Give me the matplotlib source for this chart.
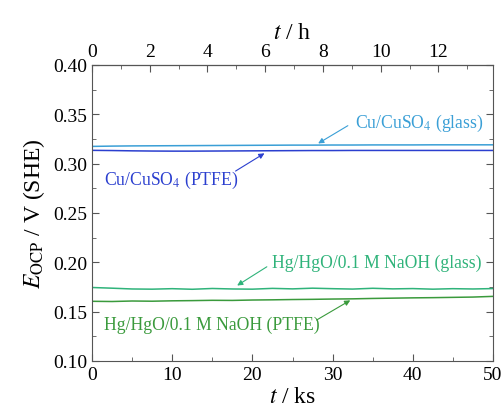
import numpy as np
import matplotlib.pyplot as plt
from matplotlib.ticker import MultipleLocator, FixedLocator

plt.rcParams['font.family'] = ['Liberation Serif', 'DejaVu Serif']
plt.rcParams['mathtext.fontset'] = 'stix'

# time in ks
t_ks = [0, 2.5, 5, 7.5, 10, 12.5, 15, 17.5, 20, 22.5, 25, 27.5, 30, 32.5, 35, 37.5, 40, 42.5, 45, 47.5, 50]
cu_glass = [0.3175, 0.3178, 0.3180, 0.3181, 0.3182, 0.3183, 0.3184, 0.3185, 0.3186, 0.3187, 0.3188, 0.3188,
            0.3189, 0.3189, 0.3190, 0.3190, 0.3190, 0.3191, 0.3191, 0.3191, 0.3191]
cu_ptfe = [0.3135, 0.3133, 0.3130, 0.3128, 0.3127, 0.3127, 0.3128, 0.3129, 0.3130, 0.3131, 0.3132, 0.3133,
           0.3133, 0.3134, 0.3134, 0.3134, 0.3134, 0.3134, 0.3134, 0.3134, 0.3134]
hg_glass = [0.1745, 0.1738, 0.1730, 0.1728, 0.1733, 0.1727, 0.1735, 0.1730, 0.1728, 0.1736, 0.1731, 0.1738,
            0.1733, 0.1729, 0.1737, 0.1731, 0.1734, 0.1728, 0.1733, 0.1730, 0.1734]
hg_ptfe = [0.1605, 0.1603, 0.1608, 0.1606, 0.1610, 0.1612, 0.1615, 0.1614, 0.1618, 0.1620, 0.1623, 0.1625,
           0.1628, 0.1630, 0.1634, 0.1637, 0.1640, 0.1642, 0.1645, 0.1648, 0.1655]
hour_ticks = [0, 2, 4, 6, 8, 10, 12]

c_cu_glass = '#3a9fd6'
c_cu_ptfe = '#2b3fcf'
c_hg_glass = '#2fb37a'
c_hg_ptfe = '#3a9a3c'

fig = plt.figure(figsize=(5.04, 4.14), dpi=100)
ax = fig.add_axes([92 / 504, 1 - 362 / 414, 401 / 504, 296 / 414])

ax.plot(t_ks, cu_glass, color=c_cu_glass, lw=1.1)
ax.plot(t_ks, cu_ptfe, color=c_cu_ptfe, lw=1.1)
ax.plot(t_ks, hg_glass, color=c_hg_glass, lw=1.1)
ax.plot(t_ks, hg_ptfe, color=c_hg_ptfe, lw=1.1)

ax.set_xlim(0, 50)
ax.set_ylim(0.10, 0.40)
ax.xaxis.set_major_locator(MultipleLocator(10))
ax.xaxis.set_minor_locator(MultipleLocator(5))
ax.yaxis.set_major_locator(MultipleLocator(0.05))
ax.yaxis.set_minor_locator(MultipleLocator(0.025))
ax.yaxis.set_major_formatter(plt.FormatStrFormatter('%.2f'))
ax.tick_params(which='both', direction='in', right=True, labelsize=14, color='#555555')
ax.tick_params(which='major', length=5)
ax.tick_params(which='minor', length=3)
for s in ax.spines.values():
    s.set_color('#555555')

ax.set_xlabel(r'$t$ / ks', fontsize=17, labelpad=2)
ax.set_ylabel(r'$E_{\mathrm{OCP}}$ / V (SHE)', fontsize=17, labelpad=4)

# top axis in hours
top = ax.secondary_xaxis('top', functions=(lambda x: x / 3.6, lambda h: h * 3.6))
top.xaxis.set_major_locator(FixedLocator(hour_ticks))
top.xaxis.set_minor_locator(FixedLocator(range(1, 14, 2)))
top.tick_params(which='both', direction='in', labelsize=14, color='#555555')
top.tick_params(which='major', length=5)
top.tick_params(which='minor', length=3)
top.set_xlabel(r'$t$ / h', fontsize=17, labelpad=4)

# labels with arrows (text position, arrow tail, arrow head)
fs = 12.7
arw = dict(arrowstyle='-|>', lw=0.8, mutation_scale=8, shrinkA=0, shrinkB=0)

ax.text(32.8, 0.342, r'Cu/CuSO$_4$ (glass)', ha='left', va='center', fontsize=fs, color=c_cu_glass)
ax.annotate('', xy=(28.2, 0.3205), xytext=(31.9, 0.3385), arrowprops=dict(arw, color=c_cu_glass))

ax.text(1.5, 0.2845, r'Cu/CuSO$_4$ (PTFE)', ha='left', va='center', fontsize=fs, color=c_cu_ptfe)
ax.annotate('', xy=(21.5, 0.3105), xytext=(17.9, 0.2925), arrowprops=dict(arw, color=c_cu_ptfe))

ax.text(22.4, 0.2003, 'Hg/HgO/0.1 M NaOH (glass)', ha='left', va='center', fontsize=fs, color=c_hg_glass)
ax.annotate('', xy=(18.1, 0.1765), xytext=(21.8, 0.1955), arrowprops=dict(arw, color=c_hg_glass))

ax.text(1.5, 0.1375, 'Hg/HgO/0.1 M NaOH (PTFE)', ha='left', va='center', fontsize=fs, color=c_hg_ptfe)
ax.annotate('', xy=(32.2, 0.1615), xytext=(28.0, 0.1415), arrowprops=dict(arw, color=c_hg_ptfe))

fig.savefig('out.png', dpi=100)
